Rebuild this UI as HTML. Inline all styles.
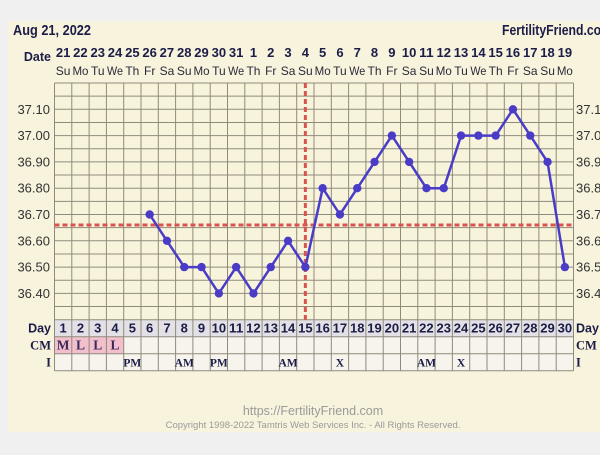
<!DOCTYPE html>
<html><head><meta charset="utf-8"><style>
html,body{margin:0;padding:0;background:#f0f0f0;width:600px;height:455px;overflow:hidden}
svg{display:block}
</style></head><body>
<svg width="600" height="455" viewBox="0 0 600 455" xmlns="http://www.w3.org/2000/svg">
<rect x="0" y="0" width="600" height="455" fill="#f0f0f0"/>
<rect x="8" y="21" width="592" height="411" fill="#f7f3dc"/>
<g font-family="Liberation Sans, sans-serif">
<text x="13" y="35" font-size="15" font-weight="bold" fill="#1c1c48" textLength="78" lengthAdjust="spacingAndGlyphs">Aug 21, 2022</text>
<text x="502" y="35" font-size="15" font-weight="bold" fill="#1c1c48" textLength="110" lengthAdjust="spacingAndGlyphs">FertilityFriend.com</text>
<text x="51" y="61" font-size="12.5" font-weight="bold" fill="#1c1c48" text-anchor="end">Date</text>
</g>
<g id="grid"></g>
<g id="labels"></g>
<g id="data"></g>
<g font-family="Liberation Sans, sans-serif" fill="#9a9a9a" text-anchor="middle">
<text x="313" y="415" font-size="12.5">https://FertilityFriend.com</text>
<text x="313" y="428" font-size="9.5">Copyright 1998-2022 Tamtris Web Services Inc. - All Rights Reserved.</text>
</g>
</svg>
<script>
(function(){
var NS="http://www.w3.org/2000/svg";
function el(tag,attrs,parent,txt){var e=document.createElementNS(NS,tag);for(var k in attrs)e.setAttribute(k,attrs[k]);if(txt!==undefined)e.textContent=txt;parent.appendChild(e);return e;}
var g=document.getElementById('grid'),L=document.getElementById('labels'),D=document.getElementById('data');
var x0=54.5,cw=17.3,n=30,x1=x0+cw*n;
var y0=83,step=13.15;
var yg=y0+18*step;
var rh=17;
function Y(t){return y0+(37.2-t)/0.05*step;}
function CX(i){return x0+(i-0.5)*cw;}
el('rect',{x:x0,y:y0,width:x1-x0,height:yg-y0,fill:'#f8f4dc'},g);
el('rect',{x:x0,y:yg,width:x1-x0,height:rh,fill:'#e3e1e6'},g);
el('rect',{x:x0,y:yg+rh,width:x1-x0,height:rh*2,fill:'#f6f4ec'},g);
for(var i=0;i<4;i++)el('rect',{x:x0+i*cw,y:yg+rh,width:cw,height:rh,fill:'#f3bfcd'},g);
for(var j=0;j<=18;j++){var y=y0+j*step;el('line',{x1:x0,y1:y,x2:x1,y2:y,stroke:'#8f8b7c','stroke-width':1},g);}
for(var j=1;j<=3;j++){var y=yg+j*rh;el('line',{x1:x0,y1:y,x2:x1,y2:y,stroke:'#8f8b7c','stroke-width':1},g);}
for(var i=0;i<=n;i++){var x=x0+i*cw;el('line',{x1:x,y1:y0,x2:x,y2:yg+3*rh,stroke:'#8f8b7c','stroke-width':1},g);}
el('line',{x1:x0,y1:Y(36.66),x2:x1,y2:Y(36.66),stroke:'#d9534f','stroke-width':3,'stroke-dasharray':'5,3'},g);
el('line',{x1:CX(15),y1:y0,x2:CX(15),y2:yg,stroke:'#d9534f','stroke-width':3,'stroke-dasharray':'5,3'},g);
var temps=[37.1,37.0,36.9,36.8,36.7,36.6,36.5,36.4];
temps.forEach(function(t){
 var y=Y(t)+4.5;
 el('text',{x:50,y:y,'font-size':13,fill:'#333','text-anchor':'end','font-family':'Liberation Sans, sans-serif'},L,t.toFixed(2));
 el('text',{x:576,y:y,'font-size':13,fill:'#333','font-family':'Liberation Sans, sans-serif'},L,t.toFixed(2));
});
var dates=[21,22,23,24,25,26,27,28,29,30,31,1,2,3,4,5,6,7,8,9,10,11,12,13,14,15,16,17,18,19];
var dn=['Su','Mo','Tu','We','Th','Fr','Sa'];
for(var i=1;i<=n;i++){
 var ds=String(dates[i-1]);
 var a={x:CX(i),y:57,'font-size':13,'font-weight':'bold',fill:'#1c1c48','text-anchor':'middle','font-family':'Liberation Sans, sans-serif'};
 if(ds.length>1){a.textLength=14.5;a.lengthAdjust='spacingAndGlyphs';}
 el('text',a,L,ds);
 var nm=dn[(i-1)%7];
 var b={x:CX(i),y:75,'font-size':12,fill:'#2a2a3a','text-anchor':'middle','font-family':'Liberation Sans, sans-serif'};
 if(nm==='Mo'||nm==='We'){b.textLength=16;b.lengthAdjust='spacingAndGlyphs';}
 el('text',b,L,nm);
 var s=String(i);
 var c={x:CX(i),y:yg+13,'font-size':13,'font-weight':'bold',fill:'#1c1c48','text-anchor':'middle','font-family':'Liberation Sans, sans-serif'};
 if(s.length>1){c.textLength=14.5;c.lengthAdjust='spacingAndGlyphs';}
 el('text',c,L,s);
}
el('text',{x:51,y:yg+13,'font-size':12.5,'font-weight':'bold',fill:'#1c1c48','text-anchor':'end','font-family':'Liberation Sans, sans-serif'},L,'Day');
el('text',{x:576,y:yg+13,'font-size':12.5,'font-weight':'bold',fill:'#1c1c48','font-family':'Liberation Sans, sans-serif'},L,'Day');
el('text',{x:51,y:yg+rh+13,'font-size':12.5,'font-weight':'bold',fill:'#1c1c48','text-anchor':'end','font-family':'Liberation Serif, serif'},L,'CM');
el('text',{x:576,y:yg+rh+13,'font-size':12.5,'font-weight':'bold',fill:'#1c1c48','font-family':'Liberation Serif, serif'},L,'CM');
el('text',{x:51,y:yg+2*rh+13,'font-size':12.5,'font-weight':'bold',fill:'#1c1c48','text-anchor':'end','font-family':'Liberation Serif, serif'},L,'I');
el('text',{x:576,y:yg+2*rh+13,'font-size':12.5,'font-weight':'bold',fill:'#1c1c48','font-family':'Liberation Serif, serif'},L,'I');
['M','L','L','L'].forEach(function(c,k){
 el('text',{x:CX(k+1),y:yg+rh+13,'font-size':13.5,'font-weight':'bold',fill:'#3a2a5a','text-anchor':'middle','font-family':'Liberation Serif, serif'},L,c);
});
var iv={5:'PM',8:'AM',10:'PM',14:'AM',17:'X',22:'AM',24:'X'};
for(var k in iv){
 el('text',{x:CX(+k),y:yg+2*rh+13,'font-size':11.5,'font-weight':'bold',fill:'#1c1c48','text-anchor':'middle','font-family':'Liberation Serif, serif'},L,iv[k]);
}
var data={6:36.7,7:36.6,8:36.5,9:36.5,10:36.4,11:36.5,12:36.4,13:36.5,14:36.6,15:36.5,16:36.8,17:36.7,18:36.8,19:36.9,20:37.0,21:36.9,22:36.8,23:36.8,24:37.0,25:37.0,26:37.0,27:37.1,28:37.0,29:36.9,30:36.5};
var pts=[];for(var d=6;d<=30;d++)pts.push(CX(d).toFixed(1)+','+Y(data[d]).toFixed(1));
el('polyline',{points:pts.join(' '),fill:'none',stroke:'#4a3cc6','stroke-width':2.5,'stroke-linejoin':'round'},D);
for(var d=6;d<=30;d++)el('circle',{cx:CX(d),cy:Y(data[d]),r:4.2,fill:'#4a3cc6'},D);
})();
</script>
</body></html>
